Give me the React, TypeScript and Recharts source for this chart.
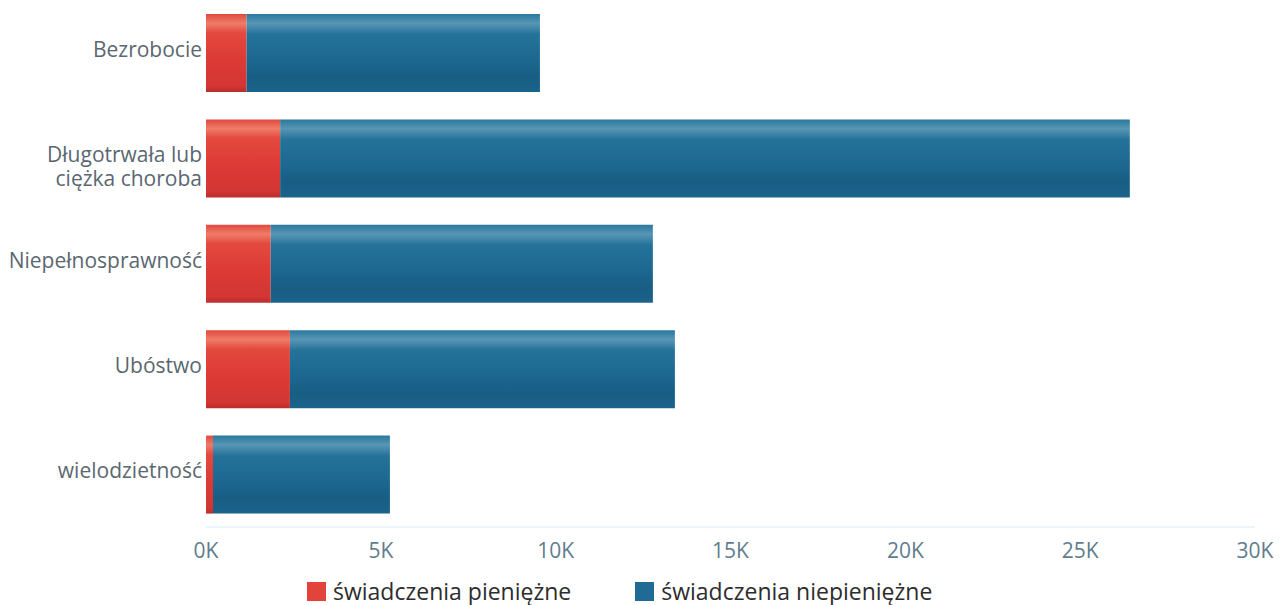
import { BarChart, Bar, XAxis, YAxis, Legend, Text } from 'recharts';

const CATEGORIES = ['Bezrobocie', 'Długotrwała lub ciężka choroba', 'Niepełnosprawność', 'Ubóstwo', 'wielodzietność'];
const CASH = [1160, 2120, 1850, 2400, 200];
const NON_CASH = [8390, 24300, 10930, 11010, 5060];
const X_TICKS = [0, 5000, 10000, 15000, 20000, 25000, 30000];

const SERIES = [
    { key: 'pieniezne', name: 'świadczenia pieniężne', color: '#e2433b', fill: 'url(#gradRed)' },
    { key: 'niepieniezne', name: 'świadczenia niepieniężne', color: '#1f6b93', fill: 'url(#gradBlue)' },
];

const data = CATEGORIES.map((name, i) => ({ name, pieniezne: CASH[i], niepieniezne: NON_CASH[i] }));

const FONT = '"Open Sans", "Noto Sans", sans-serif';

function CategoryTick(props: any) {
    const { x, y, payload } = props;
    return (
        <Text
            x={x}
            y={y}
            dy={4}
            width={196}
            lineHeight={24}
            textAnchor="end"
            verticalAnchor="middle"
            fill="#5b6770"
            style={{ fontSize: '21px', fontFamily: FONT }}
        >
            {payload.value}
        </Text>
    );
}

function LegendBox() {
    return (
        <div style={{ height: 48, display: 'flex', alignItems: 'flex-end', paddingLeft: 307, fontFamily: FONT }}>
            {SERIES.map((s, i) => (
                <div key={s.key} style={{ display: 'flex', alignItems: 'center', height: 28, marginRight: i === 0 ? 64 : 0 }}>
                    <div style={{ width: 19, height: 19, background: s.color, marginRight: 7 }} />
                    <span style={{ fontSize: 23, color: '#2d2d2d', whiteSpace: 'nowrap', lineHeight: '28px' }}>{s.name}</span>
                </div>
            ))}
        </div>
    );
}

export default function App() {
    return (
        <div style={{ position: 'absolute', left: 0, top: 0, width: 1282, height: 605, background: '#fff' }}>
            <BarChart
                width={1282}
                height={605}
                data={data}
                layout="vertical"
                margin={{ top: 0, right: 27, bottom: 0, left: 0 }}
                barSize={78}
            >
                <defs>
                    <linearGradient id="gradRed" x1="0" y1="0" x2="0" y2="1">
                        <stop offset="0%" stopColor="#e0493f" />
                        <stop offset="12%" stopColor="#ef7c68" />
                        <stop offset="24%" stopColor="#e4493f" />
                        <stop offset="60%" stopColor="#dc3a35" />
                        <stop offset="92%" stopColor="#d33633" />
                        <stop offset="100%" stopColor="#b92e2d" />
                    </linearGradient>
                    <linearGradient id="gradBlue" x1="0" y1="0" x2="0" y2="1">
                        <stop offset="0%" stopColor="#2a789e" />
                        <stop offset="12%" stopColor="#5896b4" />
                        <stop offset="26%" stopColor="#24729a" />
                        <stop offset="60%" stopColor="#1c6790" />
                        <stop offset="80%" stopColor="#185d84" />
                        <stop offset="100%" stopColor="#1a638b" />
                    </linearGradient>
                </defs>
                <XAxis
                    type="number"
                    domain={[0, 30000]}
                    ticks={X_TICKS}
                    tickFormatter={(v: number) => `${v / 1000}K`}
                    axisLine={{ stroke: '#d3ecf4' }}
                    tickLine={false}
                    tickMargin={10}
                    tick={{ fill: '#5f7d8e', fontSize: 21, fontFamily: FONT }}
                    height={30}
                />
                <YAxis
                    type="category"
                    dataKey="name"
                    width={206}
                    axisLine={false}
                    tickLine={false}
                    tickSize={0}
                    tickMargin={4}
                    tick={<CategoryTick />}
                    interval={0}
                />
                <Legend verticalAlign="bottom" wrapperStyle={{ left: 0, width: 1282 }} content={() => <LegendBox />} />
                {SERIES.map((s) => (
                    <Bar key={s.key} dataKey={s.key} name={s.name} stackId="a" fill={s.fill} isAnimationActive={false} />
                ))}
            </BarChart>
        </div>
    );
}
